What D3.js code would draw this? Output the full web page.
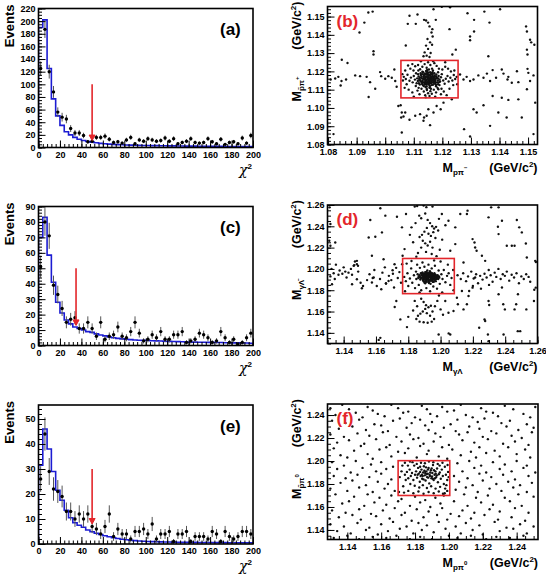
<!DOCTYPE html>
<html>
<head>
<meta charset="utf-8">
<script src="https://cdn.jsdelivr.net/npm/d3@7"></script>
<style>
  body { margin: 0; background: #fff; }
  svg text { font-family: "Liberation Sans", Arial, sans-serif; font-weight: bold; }
</style>
</head>
<body>
<div id="chart"></div>
<script>
// ---------- chi2 histograms (bins of width 4 from 0 to 200) ----------
const chi2Bins = d3.range(0, 200, 4);

const dataA = [125,187,120,88,56,48,45,30,23,23,19,9,10,16,16,18,13,8,9,7,12,16,6,12,10,14,12,10,11,15,10,14,6,8,10,14,8,7,8,14,9,6,13,5,8,9,6,15,7,19];
const mcA = [190,202,125,77,50,35,25,20,16,13,11,9.5,8.5,7.5,6.6,6,5.4,5,4.6,4.3,4,3.8,3.6,3.4,3.2,3.1,3,2.9,2.8,2.7,2.6,2.5,2.4,2.3,2.2,2.2,2.1,2,2,1.9,1.9,1.8,1.8,1.7,1.7,1.7,1.6,1.6,1.5,1.5];

const dataC = [51,80,71,39,33,24,15,17,18,11,11,15,11,6,15,4,6,7,12,6,5,9,15,8,3,4,7,5,9,4,4,7,7,9,2,3,4,8,7,5,2,3,9,5,2,4,1,2,5,8];
const mcC = [70,83,58.5,41,28,21,16.5,14,12,11,10,9,8.5,7.5,6.8,6.2,5.5,5,4.6,4.3,4,3.8,3.6,3.4,3.3,3.2,3.1,3,2.9,2.8,2.7,2.6,2.5,2.4,2.3,2.2,2.2,2.1,2.1,2,2,1.9,1.9,1.8,1.8,1.7,1.7,1.6,1.6,1.5];

const dataE = [26,44,29,22,21,19,13,13,10,12,10,12,7,6,4,7,12,3,6,4,4,2,5,5,6,4,8,2,4,4,5,1,4,4,5,1,3,3,3,2,5,4,1,5,3,2,3,5,5,4];
const mcE = [31.5,46,38,29,21.5,17.5,13.5,10.5,8.5,7.5,6.7,5.6,4.9,4.3,3.8,3.3,2.9,2.5,2.2,1.9,1.7,1.5,1.35,1.2,1.1,1,0.95,0.9,0.85,0.8,0.78,0.75,0.72,0.7,0.68,0.66,0.64,0.62,0.6,0.6,0.58,0.56,0.55,0.54,0.53,0.52,0.51,0.5,0.5,0.5];

// chi2 cut arrows: position, arrow start and tip (in Events)
const cutX = [50, 35, 50];
const cutTop = [100, 50, 30];
const cutTip = [11, 13, 8];

// ---------- scatter plots (GeV/c^2) ----------
const scatB = [
  // band and tails
  [1.0809,1.1156],[1.0819,1.0857],[1.0825,1.1161],[1.0836,1.1170],[1.0847,1.1147],[1.0848,1.1264],[1.0844,1.1123],[1.0863,1.1156],
  [1.0868,1.1246],[1.0895,1.1178],[1.0910,1.1413],[1.0912,1.1174],[1.0927,1.1467],[1.0935,1.1170],[1.0941,1.1522],[1.0942,1.1060],
  [1.0947,1.1141],[1.0956,1.1527],[1.0959,1.1310],[1.0959,1.1292],[1.0965,1.1105],[1.0982,1.1196],[1.0986,1.1174],[1.1000,1.1160],
  [1.1011,1.1174],[1.1023,1.1165],[1.1032,1.1210],[1.1035,1.1147],[1.1040,1.1116],[1.1046,1.1011],[1.1054,1.1015],[1.1058,1.0975],
  [1.1056,1.0948],[1.1058,1.0866],[1.1064,1.0953],[1.1072,1.1342],
  [1.1079,1.1460],[1.1085,1.1504],[1.1107,1.1460],[1.1113,1.1511],[1.1136,1.1482],[1.1143,1.1478],[1.1150,1.1467],[1.1155,1.1446],
  [1.1165,1.1431],[1.1162,1.1413],[1.1169,1.1540],[1.1177,1.1482],[1.1166,1.1391],[1.1148,1.1377],[1.1157,1.1359],[1.1143,1.1341],
  [1.1150,1.1323],[1.1138,1.1304],[1.1159,1.1301],[1.1145,1.1286],[1.1155,1.1279],[1.1164,1.1346],[1.1134,1.1283],[1.1198,1.1554],
  [1.1227,1.1551],[1.1225,1.1431],[1.1235,1.1292],[1.1247,1.1319],[1.1288,1.1518],[1.1297,1.1391],[1.1311,1.1418],[1.1311,1.1482],
  [1.1297,1.1370],[1.1347,1.1527],[1.1365,1.1467],[1.1402,1.1540],[1.1361,1.1283],[1.1493,1.1446],[1.1496,1.1418],[1.1507,1.1373],
  [1.1511,1.1359],[1.1522,1.1346],[1.1496,1.1319],[1.1498,1.1292],
  [1.1262,1.1183],[1.1274,1.1156],[1.1285,1.1170],[1.1297,1.1147],[1.1309,1.1156],[1.1326,1.1178],[1.1344,1.1165],[1.1356,1.1188],
  [1.1367,1.1147],[1.1376,1.1207],[1.1388,1.1165],[1.1408,1.1210],[1.1414,1.1188],[1.1428,1.1156],[1.1431,1.1170],[1.1443,1.1138],
  [1.1461,1.1201],[1.1466,1.1141],[1.1498,1.1214],[1.1501,1.1192],[1.1519,1.1178],[1.1507,1.1147],[1.1496,1.1102],[1.1525,1.1029],
  [1.1466,1.1047],[1.1431,1.1044],[1.1408,1.1056],[1.1376,1.1065],[1.1344,1.1015],[1.1320,1.0975],[1.1309,1.0993],[1.1396,1.0975],
  [1.1425,1.0948],[1.1478,1.0948],[1.1519,1.0857],[1.1367,1.0902],[1.1276,1.0884],[1.1297,1.0844],
  [1.1105,1.0957],[1.1122,1.0966],[1.1136,1.0948],[1.1134,1.0930],[1.1145,1.0957],[1.1157,1.0906],[1.1180,1.1011],[1.1194,1.0993],
  [1.1204,1.1029],[1.1233,1.1047],[1.1070,1.0975],[1.1085,1.0935],[1.1169,1.0975],[1.1151,1.0993],
  // core
  [1.1120,1.1150],[1.1128,1.1162],[1.1135,1.1140],[1.1141,1.1171],[1.1147,1.1155],[1.1152,1.1133],[1.1158,1.1168],[1.1163,1.1147],
  [1.1170,1.1159],[1.1176,1.1138],[1.1181,1.1164],[1.1125,1.1180],[1.1132,1.1125],[1.1139,1.1188],[1.1145,1.1118],[1.1150,1.1192],
  [1.1156,1.1122],[1.1161,1.1185],[1.1167,1.1127],[1.1173,1.1178],[1.1118,1.1135],[1.1130,1.1198],[1.1143,1.1202],[1.1155,1.1110],
  [1.1166,1.1196],[1.1178,1.1119],[1.1184,1.1150],[1.1122,1.1166],[1.1137,1.1156],[1.1149,1.1174],[1.1160,1.1160],[1.1171,1.1144],
  [1.1146,1.1140],[1.1153,1.1150],[1.1140,1.1160],[1.1157,1.1178],[1.1134,1.1172],[1.1162,1.1136],[1.1168,1.1170],[1.1126,1.1144],
  [1.1144,1.1128],[1.1151,1.1164],[1.1159,1.1154],[1.1137,1.1185],[1.1174,1.1152],[1.1129,1.1131],[1.1165,1.1188],[1.1148,1.1186],
  [1.1154,1.1139],[1.1141,1.1146],[1.1133,1.1158],[1.1179,1.1172],[1.1119,1.1158],[1.1163,1.1172],[1.1156,1.1145],[1.1138,1.1135],
  [1.1147,1.1165],[1.1169,1.1160],[1.1124,1.1190],[1.1176,1.1130],
  [1.1123,1.1152],[1.1127,1.1170],[1.1131,1.1148],[1.1134,1.1163],[1.1136,1.1178],[1.1139,1.1130],[1.1142,1.1152],[1.1144,1.1190],
  [1.1146,1.1172],[1.1149,1.1145],[1.1151,1.1128],[1.1153,1.1180],[1.1155,1.1158],[1.1157,1.1195],[1.1159,1.1137],[1.1161,1.1168],
  [1.1164,1.1152],[1.1166,1.1180],[1.1168,1.1140],[1.1170,1.1165],[1.1172,1.1190],[1.1175,1.1148],[1.1177,1.1160],[1.1179,1.1183],
  [1.1182,1.1140],[1.1130,1.1185],[1.1135,1.1120],[1.1140,1.1140],[1.1143,1.1183],[1.1148,1.1198],[1.1152,1.1170],[1.1155,1.1133],
  [1.1158,1.1185],[1.1162,1.1125],[1.1165,1.1162],[1.1169,1.1150],[1.1172,1.1135],[1.1174,1.1170],[1.1160,1.1143],[1.1150,1.1157],
  [1.1138,1.1167],[1.1128,1.1140],[1.1145,1.1135],[1.1163,1.1192],[1.1156,1.1115],[1.1147,1.1208],[1.1141,1.1115],[1.1133,1.1195],
  [1.1167,1.1205],[1.1178,1.1125],[1.1185,1.1162],[1.1187,1.1175],[1.1117,1.1172],[1.1121,1.1128],[1.1153,1.1210],[1.1160,1.1105],
  [1.1145,1.1105],[1.1190,1.1155],[1.1115,1.1185],[1.1185,1.1130],
  // halo inside the window
  [1.1065,1.1170],[1.1072,1.1158],[1.1078,1.1182],[1.1085,1.1149],[1.1090,1.1166],[1.1096,1.1140],[1.1100,1.1175],[1.1104,1.1155],
  [1.1108,1.1190],[1.1110,1.1135],[1.1112,1.1162],[1.1107,1.1120],[1.1099,1.1205],[1.1088,1.1215],[1.1075,1.1130],[1.1068,1.1110],
  [1.1082,1.1100],[1.1095,1.1085],[1.1113,1.1095],[1.1120,1.1075],[1.1127,1.1105],[1.1135,1.1090],[1.1140,1.1070],[1.1146,1.1098],
  [1.1150,1.1080],[1.1155,1.1065],[1.1158,1.1092],[1.1163,1.1078],[1.1170,1.1100],[1.1178,1.1085],[1.1186,1.1102],[1.1195,1.1075],
  [1.1205,1.1090],[1.1215,1.1070],[1.1190,1.1125],[1.1192,1.1145],[1.1195,1.1168],[1.1198,1.1185],[1.1203,1.1150],[1.1208,1.1132],
  [1.1212,1.1160],[1.1218,1.1175],[1.1222,1.1145],[1.1228,1.1165],[1.1235,1.1150],[1.1240,1.1180],[1.1245,1.1158],[1.1250,1.1170],
  [1.1238,1.1125],[1.1230,1.1200],[1.1220,1.1215],[1.1210,1.1225],[1.1200,1.1210],[1.1188,1.1215],[1.1180,1.1230],[1.1172,1.1245],
  [1.1164,1.1215],[1.1158,1.1235],[1.1150,1.1250],[1.1145,1.1220],[1.1138,1.1240],[1.1130,1.1225],[1.1122,1.1212],[1.1115,1.1235],
  [1.1105,1.1228],[1.1095,1.1240],[1.1080,1.1232],[1.1070,1.1205],[1.1062,1.1150],[1.1060,1.1185],[1.1117,1.1110],[1.1185,1.1195],
  [1.1183,1.1110],[1.1116,1.1205],[1.1188,1.1140],[1.1114,1.1148],[1.1197,1.1105],[1.1125,1.1255],[1.1168,1.1255],[1.1142,1.1058],
  [1.1175,1.1062],[1.1100,1.1062],[1.1225,1.1105],[1.1242,1.1205],[1.1252,1.1130],[1.1210,1.1250]
];

const scatD = [
  // left band
  [1.1318,1.1930],[1.1325,1.2000],[1.1338,1.1960],[1.1345,1.1905],[1.1352,1.2040],[1.1368,1.1945],[1.1375,1.1985],[1.1392,1.1955],
  [1.1400,1.2015],[1.1410,1.1975],[1.1418,1.1920],[1.1430,1.1965],[1.1445,1.2000],[1.1452,1.1945],[1.1465,1.2035],[1.1470,1.2070],
  [1.1482,1.2045],[1.1490,1.1975],[1.1505,1.1870],[1.1520,1.1840],[1.1545,1.1895],[1.1560,1.1950],[1.1580,1.1915],[1.1590,1.1990],
  [1.1605,1.1840],[1.1625,1.1905],[1.1640,1.1965],[1.1655,1.2015],[1.1662,1.1865],[1.1680,1.1935],[1.1695,1.1895],[1.1705,1.1955],
  [1.1712,1.1825],[1.1725,1.2010],[1.1735,1.1915],[1.1745,1.1970],[1.1755,1.1870],[1.1762,1.2045],
  // right band
  [1.2105,1.1940],[1.2125,1.1905],[1.2140,1.1960],[1.2158,1.1885],[1.2170,1.1930],[1.2190,1.1975],[1.2205,1.1910],[1.2220,1.1950],
  [1.2232,1.1865],[1.2245,1.1935],[1.2260,1.1900],[1.2272,1.1955],[1.2285,1.1920],[1.2298,1.1990],[1.2310,1.1940],[1.2322,1.1880],
  [1.2335,1.1965],[1.2345,1.1925],[1.2358,1.2000],[1.2372,1.1905],[1.2385,1.1950],[1.2398,1.1935],[1.2410,1.1975],[1.2425,1.1890],
  [1.2440,1.1945],[1.2455,1.1920],[1.2470,1.1960],[1.2485,1.1865],[1.2500,1.1930],[1.2515,1.1905],[1.2530,1.1950],[1.2545,1.1925],
  [1.2555,1.1880],[1.2590,1.2065],[1.2580,1.1805],[1.2380,1.1825],[1.2300,1.1850],[1.2250,1.1815],[1.2200,1.1840],
  // upper strip
  [1.1840,1.2585],[1.1855,1.2590],[1.1895,1.2595],[1.1912,1.2580],[1.1950,1.2585],[1.1868,1.2500],[1.1880,1.2475],[1.1905,1.2520],
  [1.1920,1.2460],[1.1935,1.2430],[1.1948,1.2400],[1.1960,1.2380],[1.1972,1.2395],[1.1985,1.2360],[1.1915,1.2385],[1.1900,1.2350],
  [1.1885,1.2320],[1.1870,1.2300],[1.1925,1.2330],[1.1940,1.2310],[1.1955,1.2345],[1.1968,1.2290],[1.1890,1.2265],[1.1905,1.2240],
  [1.1920,1.2220],[1.1935,1.2255],[1.1950,1.2200],[1.1880,1.2200],[1.1860,1.2150],[1.1910,1.2160],[1.1945,1.2140],[1.1975,1.2120],
  [1.1995,1.2180],[1.1850,1.2115],[1.1830,1.2250],[1.1810,1.2320],[1.2010,1.2275],[1.2030,1.2410],[1.1990,1.2470],[1.1845,1.2430],
  [1.1820,1.2390],
  // lower strip
  [1.1880,1.1720],[1.1895,1.1690],[1.1910,1.1660],[1.1925,1.1640],[1.1940,1.1655],[1.1905,1.1625],[1.1890,1.1600],[1.1875,1.1580],
  [1.1860,1.1560],[1.1850,1.1530],[1.1870,1.1505],[1.1895,1.1500],[1.1920,1.1495],[1.1945,1.1505],[1.1960,1.1530],[1.1935,1.1560],
  [1.1915,1.1585],[1.1950,1.1600],[1.1965,1.1650],[1.1980,1.1700],[1.1855,1.1650],[1.1840,1.1700],[1.1830,1.1610],[1.2000,1.1620],
  [1.2015,1.1570],[1.1800,1.1550],[1.2050,1.1395],[1.1990,1.1750],
  // core
  [1.1880,1.1920],[1.1890,1.1935],[1.1900,1.1910],[1.1908,1.1945],[1.1915,1.1925],[1.1922,1.1900],[1.1930,1.1940],[1.1938,1.1915],
  [1.1945,1.1930],[1.1952,1.1905],[1.1960,1.1925],[1.1968,1.1945],[1.1875,1.1900],[1.1885,1.1960],[1.1895,1.1885],[1.1905,1.1970],
  [1.1912,1.1880],[1.1920,1.1960],[1.1928,1.1875],[1.1935,1.1965],[1.1942,1.1890],[1.1950,1.1955],[1.1958,1.1880],[1.1965,1.1900],
  [1.1975,1.1920],[1.1982,1.1940],[1.1870,1.1940],[1.1862,1.1915],[1.1898,1.1950],[1.1918,1.1905],[1.1932,1.1925],[1.1948,1.1942],
  [1.1910,1.1930],[1.1925,1.1948],[1.1940,1.1905],[1.1955,1.1915],[1.1892,1.1905],[1.1902,1.1925],[1.1927,1.1890],[1.1944,1.1952],
  [1.1960,1.1940],[1.1913,1.1955],[1.1886,1.1942],[1.1934,1.1978],[1.1918,1.1985],[1.1905,1.1865],[1.1938,1.1860],[1.1970,1.1885],
  [1.1985,1.1905],[1.1858,1.1950],[1.1850,1.1905],[1.1990,1.1930],[1.1922,1.1915],[1.1908,1.1900],[1.1948,1.1922],[1.1930,1.1955],
  [1.1895,1.1925],[1.1962,1.1960],[1.1878,1.1960],[1.1915,1.1940],
  [1.1872,1.1925],[1.1877,1.1910],[1.1882,1.1945],[1.1887,1.1918],[1.1891,1.1895],[1.1894,1.1932],[1.1897,1.1955],[1.1901,1.1940],
  [1.1904,1.1885],[1.1906,1.1918],[1.1909,1.1960],[1.1911,1.1935],[1.1914,1.1895],[1.1916,1.1912],[1.1919,1.1948],[1.1921,1.1930],
  [1.1924,1.1880],[1.1926,1.1922],[1.1929,1.1962],[1.1931,1.1900],[1.1934,1.1935],[1.1936,1.1948],[1.1939,1.1890],[1.1941,1.1925],
  [1.1944,1.1910],[1.1946,1.1960],[1.1949,1.1938],[1.1951,1.1895],[1.1954,1.1928],[1.1957,1.1945],[1.1959,1.1912],[1.1962,1.1898],
  [1.1964,1.1930],[1.1967,1.1918],[1.1970,1.1940],[1.1973,1.1905],[1.1977,1.1930],[1.1980,1.1915],[1.1888,1.1968],[1.1912,1.1972],
  [1.1936,1.1970],[1.1900,1.1872],[1.1928,1.1868],[1.1952,1.1878],[1.1865,1.1930],[1.1992,1.1918],[1.1918,1.1922],[1.1903,1.1905],
  [1.1943,1.1948],[1.1955,1.1920],
  // halo inside the window
  [1.1775,1.1925],[1.1785,1.1885],[1.1795,1.1960],[1.1800,1.1840],[1.1810,1.1910],[1.1818,1.2005],[1.1825,1.1870],[1.1835,1.1940],
  [1.1842,1.1820],[1.1848,1.1975],[1.1855,1.2040],[1.1865,1.1850],[1.1872,1.2010],[1.1880,1.1800],[1.1888,1.2060],[1.1900,1.2020],
  [1.1912,1.1820],[1.1925,1.2040],[1.1935,1.1790],[1.1945,1.2005],[1.1955,1.1835],[1.1965,1.2030],[1.1978,1.1815],[1.1988,1.1985],
  [1.1995,1.1860],[1.2005,1.1950],[1.2012,1.1905],[1.2020,1.1990],[1.2030,1.1875],[1.2040,1.1935],[1.2050,1.1960],[1.2060,1.1850],
  [1.2068,1.1915],[1.2078,1.1990],[1.2080,1.1800],[1.2000,1.2070],[1.1960,1.2080],[1.1820,1.2075],[1.1790,1.2050],[1.1780,1.1790],
  [1.2045,1.2040],[1.1870,1.1780],[1.2010,1.1780],
  // scattered background
  [1.1313,1.2578],[1.1318,1.2421],[1.1311,1.2264],[1.1318,1.2217],[1.1348,1.2248],[1.1555,1.2295],[1.1596,1.2302],[1.1637,1.2343],
  [1.1565,1.2459],[1.1627,1.2569],[1.1658,1.2500],[1.1730,1.2490],[1.1761,1.2390],[1.1777,1.2186],[1.1765,1.2123],[1.1575,1.2123],
  [1.1647,1.2091],[1.1482,1.2076],[1.1489,1.2029],[1.1462,1.2029],[1.1715,1.2044],[1.1703,1.1988],[1.1786,1.2515],
  [1.1328,1.1856],[1.1452,1.1856],[1.1482,1.1903],[1.1513,1.1818],[1.1575,1.1872],[1.1586,1.1919],[1.1633,1.1809],[1.1662,1.1862],
  [1.1678,1.1887],[1.1726,1.1699],[1.1716,1.1642],[1.1751,1.1526],[1.1792,1.1454],[1.1627,1.1353],[1.1617,1.1334],
  [1.2091,1.2233],[1.2122,1.2515],[1.2167,1.2547],[1.2163,1.2515],[1.2198,1.2280],[1.2210,1.2248],[1.2214,1.2201],[1.2223,1.2170],
  [1.2256,1.2123],[1.2276,1.2076],[1.2297,1.2484],[1.2313,1.2578],[1.2359,1.2578],[1.2355,1.2396],[1.2380,1.2452],[1.2359,1.2327],
  [1.2410,1.2217],[1.2441,1.2217],[1.2458,1.2217],[1.2472,1.2459],[1.2487,1.2390],[1.2503,1.2343],[1.2528,1.2239],[1.2534,1.2107],
  [1.2586,1.2076],[1.2091,1.2390],[1.2049,1.2452],[1.2008,1.2515],[1.2060,1.2170],[1.2142,1.2060],
  [1.2589,1.1824],[1.2578,1.1699],[1.2531,1.1620],[1.2479,1.1762],[1.2468,1.1668],[1.2458,1.1620],[1.2388,1.1668],[1.2398,1.1620],
  [1.2359,1.1762],[1.2297,1.1699],[1.2301,1.1661],[1.2276,1.1511],[1.2239,1.1448],[1.2272,1.1526],[1.2293,1.1385],[1.2297,1.1322],
  [1.2390,1.1385],[1.2478,1.1416],[1.2493,1.1416],[1.2177,1.1793],[1.2173,1.1746],[1.2163,1.1668],[1.2142,1.1620],[1.2107,1.1668],
  [1.2080,1.1605],[1.2049,1.1589],[1.2060,1.1385],[1.1988,1.1385],[1.2214,1.1919],[1.2198,1.1824],[1.2132,1.1793],[1.2101,1.1730],
  [1.2029,1.1699]
];

const scatF = [
  [1.130,1.246],[1.137,1.249],[1.141,1.245],[1.152,1.247],[1.155,1.244],[1.166,1.249],[1.170,1.246],[1.176,1.243],[1.184,1.248],[1.187,1.245],[1.196,1.247],[1.203,1.244],[1.207,1.249],[1.219,1.246],[1.222,1.243],[1.233,1.248],[1.238,1.245],[1.251,1.247],
  [1.133,1.240],[1.145,1.242],[1.149,1.238],[1.158,1.241],[1.162,1.239],[1.173,1.242],[1.180,1.238],[1.189,1.241],[1.193,1.239],[1.199,1.243],[1.210,1.240],[1.214,1.238],[1.226,1.242],[1.229,1.239],[1.244,1.241],[1.248,1.238],
  [1.131,1.235],[1.139,1.233],[1.147,1.236],[1.156,1.232],[1.167,1.235],[1.171,1.237],[1.178,1.233],[1.183,1.236],[1.190,1.234],[1.201,1.232],[1.205,1.236],[1.217,1.234],[1.221,1.237],[1.231,1.233],[1.236,1.235],[1.246,1.232],
  [1.135,1.228],[1.143,1.230],[1.151,1.227],[1.160,1.231],[1.164,1.226],[1.175,1.229],[1.186,1.231],[1.188,1.227],[1.197,1.229],[1.204,1.226],[1.212,1.230],[1.218,1.228],[1.225,1.226],[1.234,1.230],[1.241,1.227],[1.250,1.229],
  [1.130,1.223],[1.138,1.221],[1.146,1.224],[1.153,1.222],[1.161,1.225],[1.169,1.221],[1.177,1.223],[1.182,1.220],[1.192,1.224],[1.195,1.221],[1.206,1.223],[1.211,1.225],[1.220,1.221],[1.228,1.224],[1.237,1.222],[1.243,1.220],[1.249,1.225],
  [1.134,1.216],[1.141,1.218],[1.150,1.215],[1.157,1.219],[1.165,1.214],[1.172,1.217],[1.179,1.219],[1.185,1.215],[1.191,1.217],[1.200,1.214],[1.208,1.218],[1.215,1.216],[1.223,1.219],[1.232,1.215],[1.239,1.217],[1.247,1.214],
  [1.132,1.211],[1.144,1.209],[1.148,1.213],[1.159,1.210],[1.163,1.212],[1.170,1.208],[1.176,1.211],[1.183,1.213],[1.188,1.209],[1.196,1.212],[1.202,1.210],[1.213,1.208],[1.218,1.212],[1.227,1.209],[1.235,1.212],[1.245,1.210],
  [1.136,1.205],[1.140,1.203],[1.152,1.206],[1.155,1.202],[1.166,1.204],[1.174,1.207],[1.181,1.203],[1.187,1.206],[1.194,1.204],[1.199,1.202],[1.207,1.205],[1.216,1.203],[1.222,1.207],[1.230,1.204],[1.240,1.206],[1.248,1.203],
  [1.131,1.199],[1.138,1.196],[1.145,1.200],[1.154,1.197],[1.160,1.199],[1.167,1.195],[1.205,1.198],[1.212,1.200],[1.219,1.196],[1.226,1.199],[1.233,1.197],[1.240,1.200],[1.246,1.196],
  [1.134,1.193],[1.142,1.190],[1.149,1.194],[1.157,1.191],[1.163,1.193],[1.208,1.191],[1.215,1.194],[1.222,1.190],[1.230,1.193],[1.237,1.191],[1.244,1.194],[1.251,1.190],
  [1.132,1.187],[1.139,1.185],[1.146,1.188],[1.153,1.186],[1.160,1.189],[1.166,1.184],[1.203,1.187],[1.211,1.185],[1.218,1.189],[1.225,1.186],[1.232,1.188],[1.239,1.184],[1.247,1.187],
  [1.136,1.181],[1.143,1.183],[1.151,1.179],[1.158,1.182],[1.164,1.180],[1.206,1.182],[1.214,1.179],[1.220,1.183],[1.228,1.180],[1.235,1.182],[1.242,1.179],[1.249,1.181],
  [1.130,1.176],[1.140,1.174],[1.147,1.177],[1.155,1.173],[1.162,1.176],[1.168,1.174],[1.204,1.175],[1.210,1.177],[1.217,1.173],[1.224,1.176],[1.231,1.174],[1.238,1.177],[1.246,1.173],
  [1.133,1.171],[1.144,1.169],[1.152,1.171],[1.159,1.168],[1.166,1.170],[1.172,1.167],[1.180,1.169],[1.186,1.166],[1.192,1.168],[1.197,1.170],[1.209,1.171],[1.216,1.168],[1.223,1.170],[1.233,1.168],[1.241,1.171],[1.250,1.169],
  [1.137,1.163],[1.141,1.165],[1.150,1.161],[1.156,1.164],[1.163,1.162],[1.170,1.165],[1.177,1.161],[1.183,1.164],[1.189,1.160],[1.195,1.163],[1.203,1.165],[1.211,1.161],[1.219,1.164],[1.226,1.162],[1.236,1.165],[1.243,1.161],
  [1.131,1.157],[1.139,1.155],[1.147,1.158],[1.154,1.154],[1.161,1.157],[1.168,1.159],[1.174,1.155],[1.181,1.158],[1.188,1.156],[1.196,1.159],[1.201,1.154],[1.208,1.157],[1.215,1.155],[1.224,1.158],[1.230,1.156],[1.239,1.159],[1.247,1.155],
  [1.135,1.151],[1.143,1.153],[1.148,1.149],[1.157,1.152],[1.165,1.150],[1.172,1.153],[1.178,1.148],[1.185,1.151],[1.193,1.153],[1.199,1.149],[1.206,1.152],[1.213,1.150],[1.221,1.153],[1.229,1.149],[1.237,1.151],[1.245,1.148],
  [1.130,1.145],[1.138,1.143],[1.146,1.146],[1.153,1.142],[1.160,1.145],[1.167,1.147],[1.175,1.143],[1.182,1.146],[1.187,1.144],[1.194,1.147],[1.204,1.143],[1.210,1.146],[1.218,1.144],[1.227,1.147],[1.234,1.142],[1.242,1.145],[1.250,1.143],
  [1.134,1.139],[1.142,1.137],[1.151,1.140],[1.158,1.136],[1.164,1.139],[1.171,1.141],[1.179,1.137],[1.184,1.140],[1.191,1.138],[1.198,1.141],[1.207,1.137],[1.214,1.140],[1.220,1.136],[1.230,1.139],[1.238,1.141],[1.246,1.137],
  [1.132,1.133],[1.140,1.135],[1.147,1.132],[1.155,1.134],[1.163,1.133],[1.169,1.135],[1.177,1.132],[1.183,1.134],[1.190,1.132],[1.200,1.135],[1.205,1.133],[1.213,1.135],[1.222,1.132],[1.228,1.134],[1.236,1.133],[1.244,1.135],
  // signal region
  [1.1740,1.1880],[1.1752,1.1905],[1.1760,1.1850],[1.1768,1.1925],[1.1775,1.1870],[1.1782,1.1895],[1.1790,1.1835],[1.1795,1.1960],
  [1.1800,1.1880],[1.1806,1.1910],[1.1812,1.1855],[1.1818,1.1940],[1.1822,1.1890],[1.1828,1.1820],[1.1833,1.1870],[1.1838,1.1925],
  [1.1842,1.1845],[1.1848,1.1900],[1.1852,1.1955],[1.1857,1.1875],[1.1862,1.1830],[1.1866,1.1910],[1.1871,1.1860],[1.1875,1.1890],
  [1.1880,1.1940],[1.1884,1.1805],[1.1888,1.1870],[1.1893,1.1920],[1.1897,1.1850],[1.1902,1.1895],[1.1906,1.1965],[1.1910,1.1835],
  [1.1915,1.1880],[1.1920,1.1910],[1.1925,1.1860],[1.1930,1.1935],[1.1935,1.1815],[1.1940,1.1885],[1.1946,1.1900],[1.1952,1.1845],
  [1.1958,1.1925],[1.1964,1.1870],[1.1970,1.1800],[1.1976,1.1950],[1.1982,1.1880],[1.1990,1.1835],[1.1995,1.1905],
  [1.1745,1.1835],[1.1758,1.1960],[1.1772,1.1800],[1.1785,1.1990],[1.1798,1.1785],[1.1810,1.1975],[1.1825,1.1770],[1.1835,1.1985],
  [1.1846,1.1790],[1.1858,1.1980],[1.1870,1.1765],[1.1882,1.1995],[1.1895,1.1780],[1.1908,1.1990],[1.1921,1.1760],[1.1934,1.1975],
  [1.1948,1.1775],[1.1962,1.1985],[1.1978,1.1760],[1.1992,1.1965],
  [1.1815,1.1880],[1.1830,1.1905],[1.1845,1.1870],[1.1855,1.1915],[1.1868,1.1885],[1.1878,1.1855],[1.1890,1.1900],[1.1900,1.1865],
  [1.1912,1.1920],[1.1922,1.1890],[1.1840,1.1880],[1.1860,1.1895],[1.1876,1.1925],[1.1886,1.1880],[1.1898,1.1935],[1.1918,1.1850],
  [1.1928,1.1875],[1.1850,1.1840],[1.1865,1.1945],[1.1905,1.1845],
  [1.1720,1.1910],[1.1710,1.1860],[1.1730,1.1780],[1.1725,1.1960],[1.1705,1.1730],[1.1735,1.1725],[1.1760,1.1740],[1.1790,1.1720],
  [1.1820,1.1735],[1.1850,1.1715],[1.1880,1.1730],[1.1910,1.1720],[1.1940,1.1735],[1.1965,1.1715],[1.1990,1.1740],[1.1985,1.1790],
  [1.1975,1.1720],[1.1998,1.1860],[1.1740,1.1985],[1.1770,1.1995],[1.1830,1.1950],[1.1945,1.1960]
];

// signal windows [xmin, xmax, ymin, ymax]
const boxB = [1.1055, 1.1255, 1.1055, 1.1260];
const boxD = [1.1765, 1.2085, 1.1768, 1.2098];
const boxF = [1.1700, 1.2005, 1.1700, 1.2003];

// ---------- drawing ----------
const W = 546, H = 586;
const red = "#e3262b", blue = "#1c1cd2";

const svg = d3.select("#chart").append("svg")
    .attr("width", W)
    .attr("height", H)
    .style("background", "#fff");

function ticksBetween(dom, step) {
    let a = Math.ceil(dom[0] / step - 1e-6), b = Math.floor(dom[1] / step + 1e-6);
    return d3.range(a, b + 1).map(k => +(k * step).toFixed(6));
}

function styleAxis(g) {
    g.select(".domain").remove();
    g.selectAll("line").attr("stroke", "#000").attr("stroke-width", 1);
    g.selectAll("text")
        .attr("fill", "#000")
        .style("font-size", "9px")
        .style("font-weight", "bold")
        .style("font-family", "'Liberation Sans', Arial, sans-serif");
}

function drawAxes(p, x, y, xMajor, xMinor, yMajor, yMinor, fmt) {
    let gx = svg.append("g").attr("transform", "translate(0," + p.y1 + ")");
    gx.call(d3.axisBottom(x).tickValues(xMinor).tickSize(-3.5).tickFormat(""));
    gx.call(styleAxis);
    let gx2 = svg.append("g").attr("transform", "translate(0," + p.y1 + ")");
    gx2.call(d3.axisBottom(x).tickValues(xMajor).tickSize(-7).tickPadding(4).tickFormat(fmt));
    gx2.call(styleAxis);

    let gy = svg.append("g").attr("transform", "translate(" + p.x0 + ",0)");
    gy.call(d3.axisLeft(y).tickValues(yMinor).tickSize(-3.5).tickFormat(""));
    gy.call(styleAxis);
    let gy2 = svg.append("g").attr("transform", "translate(" + p.x0 + ",0)");
    gy2.call(d3.axisLeft(y).tickValues(yMajor).tickSize(-7).tickPadding(3).tickFormat(fmt));
    gy2.call(styleAxis);

    // frame
    svg.append("rect")
        .attr("x", p.x0).attr("y", p.y0)
        .attr("width", p.x1 - p.x0).attr("height", p.y1 - p.y0)
        .attr("fill", "none").attr("stroke", "#000").attr("stroke-width", 1.6);
}

// ---------- histogram panels ----------
const histPanels = [
    {label: "(a)", x0: 38.5, x1: 253, y0: 8.5, y1: 147.5, ymax: 220, yStep: 20, yMinor: 5, data: dataA, mc: mcA, cut: 0},
    {label: "(c)", x0: 38.5, x1: 253, y0: 206.5, y1: 345.5, ymax: 90, yStep: 10, yMinor: 2, data: dataC, mc: mcC, cut: 1},
    {label: "(e)", x0: 38.5, x1: 253, y0: 405, y1: 544, ymax: 55.6, yStep: 10, yMinor: 2, data: dataE, mc: mcE, cut: 2}
];

histPanels.forEach(p => {
    let x = d3.scaleLinear().domain([0, 200]).range([p.x0, p.x1]);
    let y = d3.scaleLinear().domain([0, p.ymax]).range([p.y1, p.y0]);

    let clipId = "clip" + p.label.replace(/\W/g, "");
    svg.append("clipPath").attr("id", clipId)
        .append("rect").attr("x", p.x0).attr("y", p.y0)
        .attr("width", p.x1 - p.x0).attr("height", p.y1 - p.y0);
    let g = svg.append("g").attr("clip-path", "url(#" + clipId + ")");

    // MC step histogram
    let steps = [[0, 0]];
    p.mc.forEach((v, i) => {
        steps.push([chi2Bins[i], v]);
        steps.push([chi2Bins[i] + 4, v]);
    });
    steps.push([200, 0]);
    g.append("path")
        .datum(steps)
        .attr("fill", "none")
        .attr("stroke", blue)
        .attr("stroke-width", 1.6)
        .attr("d", d3.line().x(d => x(d[0])).y(d => y(d[1])));

    // data with sqrt(N) errors
    let pts = p.data.map((v, i) => ({c: chi2Bins[i] + 2, v: v}));
    g.selectAll(".err").data(pts).enter().append("line")
        .attr("x1", d => x(d.c)).attr("x2", d => x(d.c))
        .attr("y1", d => y(d.v - Math.sqrt(d.v)))
        .attr("y2", d => y(d.v + Math.sqrt(d.v)))
        .attr("stroke", "#555").attr("stroke-width", 1);
    g.selectAll(".pt").data(pts).enter().append("circle")
        .attr("cx", d => x(d.c)).attr("cy", d => y(d.v))
        .attr("r", 1.7).attr("fill", "#000");

    // cut arrow
    let ax = x(cutX[p.cut]), aTop = y(cutTop[p.cut]), aTip = y(cutTip[p.cut]);
    svg.append("line")
        .attr("x1", ax).attr("x2", ax).attr("y1", aTop).attr("y2", aTip - 4)
        .attr("stroke", red).attr("stroke-width", 1.6);
    svg.append("path")
        .attr("d", "M" + (ax - 3) + "," + (aTip - 5.5) + "L" + ax + "," + aTip + "L" + (ax + 3) + "," + (aTip - 5.5) + "Z")
        .attr("fill", red).attr("stroke", red).attr("stroke-width", 1);

    drawAxes(p, x, y,
        ticksBetween([0, 200], 20), ticksBetween([0, 200], 4),
        ticksBetween([0, p.ymax], p.yStep), ticksBetween([0, p.ymax], p.yMinor),
        d3.format("d"));

    // titles
    svg.append("text")
        .attr("transform", "translate(13.5," + (p.y0 - 4) + ") rotate(-90)")
        .attr("text-anchor", "end")
        .style("font-size", "13px")
        .text("Events");

    let chi = svg.append("text")
        .attr("x", p.x1 - 1).attr("y", p.y1 + 27)
        .attr("text-anchor", "end");
    chi.append("tspan").style("font-size", "14px").style("font-weight", "normal")
        .style("font-family", "'DejaVu Serif', serif").style("font-style", "italic").text("χ");
    chi.append("tspan").attr("dy", -6).style("font-size", "8px").text("2");

    svg.append("text")
        .attr("x", p.x1 - 33).attr("y", p.y0 + 26.5)
        .style("font-size", "17px")
        .text(p.label);
});

// ---------- scatter panels ----------
const scatPanels = [
    {label: "(b)", x0: 327.5, x1: 537.5, y0: 6.5, y1: 144.5, xd: [1.0798, 1.1533], yd: [1.08, 1.1555],
     major: 0.01, minor: 0.002, pts: scatB, box: boxB,
     xs: "pπ", xsup: "−", ys: "p̄π", ysup: "+"},
    {label: "(d)", x0: 327.5, x1: 537.5, y0: 205, y1: 343.5, xd: [1.13, 1.26], yd: [1.13, 1.26],
     major: 0.02, minor: 0.005, pts: scatD, box: boxD,
     xs: "γΛ", xsup: "", ys: "γΛ̄", ysup: ""},
    {label: "(f)", x0: 327.5, x1: 538, y0: 404, y1: 539.5, xd: [1.1283, 1.2526], yd: [1.1317, 1.2496],
     major: 0.02, minor: 0.005, pts: scatF, box: boxF,
     xs: "pπ", xsup: "0", ys: "p̄π", ysup: "0"}
];

function massTitle(t, sub, sup) {
    t.append("tspan").style("font-size", "12.5px").text("M");
    t.append("tspan").attr("dy", 3).style("font-size", "8px").text(sub);
    if (sup) t.append("tspan").attr("dy", -5).style("font-size", "6px").text(sup);
}

scatPanels.forEach(p => {
    let x = d3.scaleLinear().domain(p.xd).range([p.x0, p.x1]);
    let y = d3.scaleLinear().domain(p.yd).range([p.y1, p.y0]);

    let clipId = "clip" + p.label.replace(/\W/g, "");
    svg.append("clipPath").attr("id", clipId)
        .append("rect").attr("x", p.x0).attr("y", p.y0)
        .attr("width", p.x1 - p.x0).attr("height", p.y1 - p.y0);
    let g = svg.append("g").attr("clip-path", "url(#" + clipId + ")");

    g.selectAll("circle").data(p.pts).enter().append("circle")
        .attr("cx", d => x(d[0])).attr("cy", d => y(d[1]))
        .attr("r", 1.2).attr("fill", "#111");

    g.append("rect")
        .attr("x", x(p.box[0])).attr("y", y(p.box[3]))
        .attr("width", x(p.box[1]) - x(p.box[0]))
        .attr("height", y(p.box[2]) - y(p.box[3]))
        .attr("fill", "none").attr("stroke", red).attr("stroke-width", 1.6);

    drawAxes(p, x, y,
        ticksBetween(p.xd, p.major), ticksBetween(p.xd, p.minor),
        ticksBetween(p.yd, p.major), ticksBetween(p.yd, p.minor),
        d3.format(".2f"));

    // x title
    let tx = svg.append("text").attr("x", p.x0 + 115).attr("y", p.y1 + 27);
    massTitle(tx, p.xs, p.xsup);
    let ux = svg.append("text").attr("x", p.x1).attr("y", p.y1 + 27)
        .attr("text-anchor", "end").style("font-size", "12.5px");
    ux.append("tspan").text("(GeV/c");
    ux.append("tspan").attr("dy", -5).style("font-size", "8px").text("2");
    ux.append("tspan").attr("dy", 5).text(")");

    // y title (rotated)
    let ty = svg.append("text")
        .attr("transform", "translate(" + (p.x0 - 27) + "," + (p.y0 + 95) + ") rotate(-90)");
    massTitle(ty, p.ys, p.ysup);
    let uy = svg.append("text")
        .attr("transform", "translate(" + (p.x0 - 27) + "," + (p.y0 - 5) + ") rotate(-90)")
        .attr("text-anchor", "end").style("font-size", "12.5px");
    uy.append("tspan").text("(GeV/c");
    uy.append("tspan").attr("dy", -5).style("font-size", "8px").text("2");
    uy.append("tspan").attr("dy", 5).text(")");

    svg.append("text")
        .attr("x", p.x0 + 9).attr("y", p.y0 + 20)
        .attr("fill", red)
        .style("font-size", "17px")
        .text(p.label);
});
</script>
</body>
</html>
